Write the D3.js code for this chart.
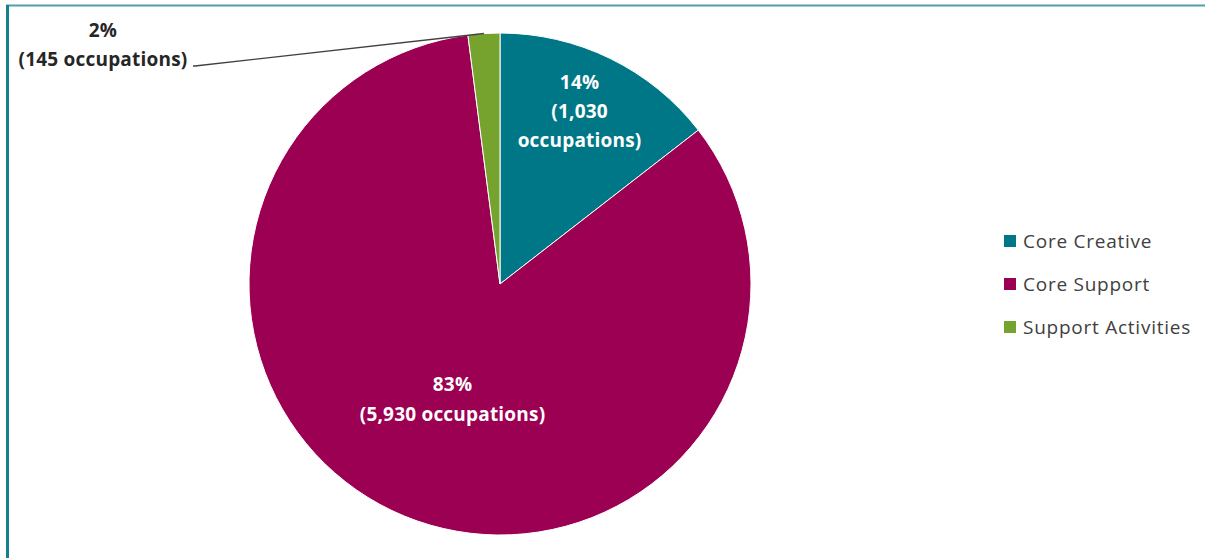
<!DOCTYPE html>
<html><head><meta charset="utf-8">
<script src="https://cdn.jsdelivr.net/npm/d3@7"></script>
<style>body{margin:0;background:#fff;}svg{display:block;}</style>
</head><body>
<script>
const categories = ["Core Creative", "Core Support", "Support Activities"];
const values = [1030, 5930, 145];
const percentLabels = ["14%", "83%", "2%"];
const countLabels = ["1,030", "5,930", "145"];
const colors = ["#007786", "#9b0052", "#76a22e"];

const W = 1205, H = 558;
const svg = d3.select("body").append("svg").attr("width", W).attr("height", H);
const font = "'Open Sans', sans-serif";
const fs = 19;

// border
svg.append("line").attr("x1", 6).attr("x2", W).attr("y1", 5.5).attr("y2", 5.5).attr("stroke", "#4f9fae").attr("stroke-width", 2);
svg.append("line").attr("x1", 7.5).attr("x2", 7.5).attr("y1", 5).attr("y2", H).attr("stroke", "#17808f").attr("stroke-width", 3);

const cx = 500, cy = 284, r = 251;
const g = svg.append("g").attr("transform", `translate(${cx},${cy})`);
const pie = d3.pie().sort(null).value(d => d)(values);
const arc = d3.arc().innerRadius(0).outerRadius(r);
g.selectAll("path").data(pie).join("path").attr("d", arc)
  .attr("fill", (d, i) => colors[i]).attr("stroke", "#fff").attr("stroke-width", 1);

function labelText(parent, x, y, lines, fill, gap) {
  const t = parent.append("text").attr("text-anchor", "middle").attr("fill", fill)
    .attr("font-family", font).attr("font-weight", 700).attr("font-size", fs)
    .attr("letter-spacing", 0.2);
  const n = lines.length;
  lines.forEach((l, k) => t.append("tspan").attr("x", x).attr("y", y + (k - (n - 1) / 2) * gap).attr("dy", "0.35em").text(l));
}
// Core Creative
{
  const c = d3.arc().innerRadius(r * 0.757).outerRadius(r * 0.757).centroid(pie[0]);
  labelText(g, c[0] - 4, c[1] - 2, [percentLabels[0], "(" + countLabels[0], "occupations)"], "#fff", 29);
}
// Core Support
{
  const c = d3.arc().innerRadius(r * 0.496).outerRadius(r * 0.496).centroid(pie[1]);
  labelText(g, c[0], c[1], [percentLabels[1], "(" + countLabels[1] + " occupations)"], "#fff", 30);
}
// Support Activities (outside with leader)
{
  const a = (pie[2].startAngle + pie[2].endAngle) / 2;
  const px = Math.sin(a) * r, py = -Math.cos(a) * r;
  g.append("polyline").attr("points", `${px},${py} ${195 - cx},${66 - cy} ${193 - cx},${66 - cy}`)
    .attr("fill", "none").attr("stroke", "#404040").attr("stroke-width", 1.3);
  labelText(svg, 103, 44.5, [percentLabels[2], "(" + countLabels[2] + " occupations)"], "#262626", 29);
}

// legend
const leg = svg.append("g").attr("transform", "translate(1004,241)");
categories.forEach((c, i) => {
  const row = leg.append("g").attr("transform", `translate(0,${i * 43})`);
  row.append("rect").attr("x", 0).attr("y", -6).attr("width", 12).attr("height", 12).attr("fill", colors[i]);
  row.append("text").attr("x", 19).attr("y", 0).attr("dy", "0.35em").attr("font-family", font)
    .attr("font-size", 19).attr("letter-spacing", 0.75).attr("fill", "#404040").text(c);
});
</script>
</body></html>
